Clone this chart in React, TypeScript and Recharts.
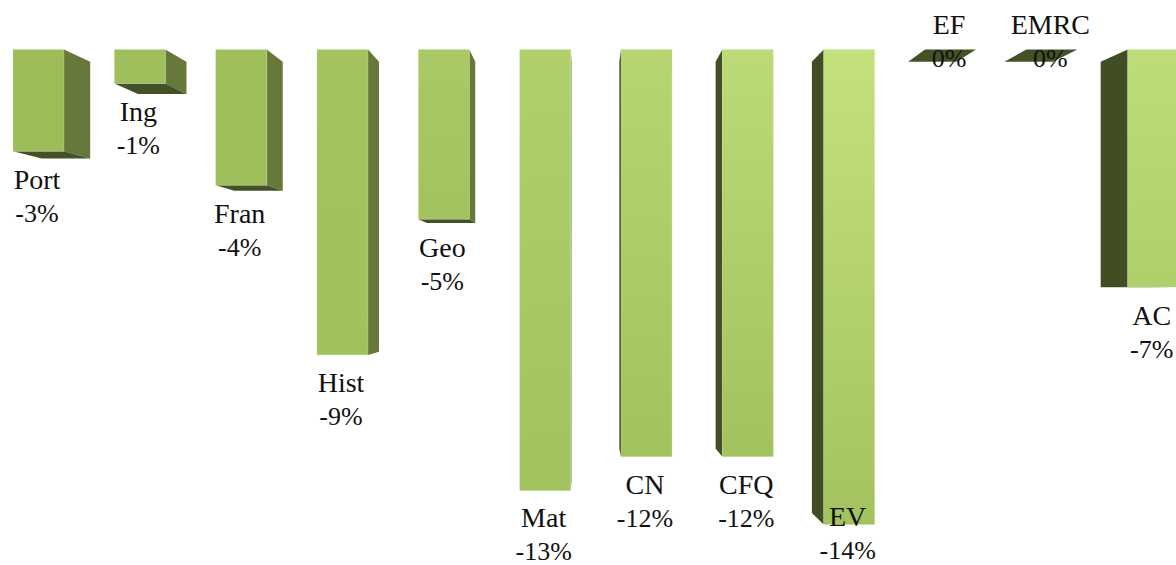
import React from "react";
import { BarChart, Bar, XAxis, YAxis, LabelList } from "recharts";

const categories = ["Port", "Ing", "Fran", "Hist", "Geo", "Mat", "CN", "CFQ", "EV", "EF", "EMRC", "AC"];
const values = [-3, -1, -4, -9, -5, -13, -12, -12, -14, 0, 0, -7];

// styling per bar, front face gets lighter towards the right
const topColors = ["#9dbd5b", "#9fbf5d", "#9fbf5d", "#a3c360", "#a9c966", "#b0d06d", "#b6d673", "#bbdb78", "#c3e27f", "#a0c05d", "#a0c05d", "#bddd7a"];
const bottomColors = ["#9dbd5b", "#9fbf5d", "#9ebe5c", "#a1c15e", "#a3c360", "#a2c25f", "#a2c25f", "#a2c25f", "#a3c360", "#a0c05d", "#a0c05d", "#afcf6b"];
// label baseline below the bar end, a few were moved by hand in the original
const labelOffsets = [38, 38, 38, 37, 38, 36, 37, 37, 1, -16, -16, 38];

const data = categories.map((name, i) => ({ name, value: values[i] }));

// perspective of the fake 3D box
const VP_X = 600;
const VP_Y = 293.5;
const DEPTH = 0.05;
const backX = (x: number) => x + (VP_X - x) * DEPTH;
const backY = (y: number) => y + (VP_Y - y) * DEPTH;
const pts = (list: number[][]) => list.map((p) => p.join(",")).join(" ");

function Box3D(props: any) {
  const { x, y, width, height, index } = props;
  const top = Math.min(y, y + height);
  const bottom = Math.max(y, y + height);
  const left = x;
  const right = x + width;
  const id = `face-${index}`;
  return (
    <g>
      <defs>
        <linearGradient id={id} x1="0" y1="0" x2="0" y2="1">
          <stop offset="0%" stopColor={topColors[index]} />
          <stop offset="100%" stopColor={bottomColors[index]} />
        </linearGradient>
      </defs>
      {right < VP_X && (
        <polygon
          fill="#66793a"
          points={pts([[right, top], [backX(right), backY(top)], [backX(right), backY(bottom)], [right, bottom]])}
        />
      )}
      {left > VP_X && (
        <polygon
          fill="#414d23"
          points={pts([[left, top], [backX(left), backY(top)], [backX(left), backY(bottom)], [left, bottom]])}
        />
      )}
      {bottom < VP_Y && (
        <polygon
          fill="#445126"
          points={pts([[left, bottom], [right, bottom], [backX(right), backY(bottom)], [backX(left), backY(bottom)]])}
        />
      )}
      {height !== 0 && (
        <rect
          x={left}
          y={top}
          width={width}
          height={bottom - top}
          fill={`url(#${id})`}
          stroke="#d4e3ab"
          strokeOpacity={0.3}
          strokeWidth={1}
        />
      )}
    </g>
  );
}

function BarLabel(props: any) {
  const { x, y, width, height, index } = props;
  const cx = x + width / 2 - 1.5;
  const baseline = Math.max(y, y + height) + labelOffsets[index];
  return (
    <text
      x={cx}
      y={baseline}
      textAnchor="middle"
      fontFamily="'Liberation Serif', serif"
      fontSize={28}
      fill="#111111"
    >
      <tspan x={cx}>{categories[index]}</tspan>
      <tspan x={cx} dy={33} fontSize={26}>{`${values[index]}%`}</tspan>
    </text>
  );
}

export default function App() {
  return (
    <div style={{ position: "absolute", left: 0, top: 0, width: 1176, height: 565, overflow: "hidden", background: "#ffffff" }}>
      <div style={{ position: "absolute", left: -12, top: 0 }}>
        <BarChart
          width={1216}
          height={565}
          data={data}
          barSize={51}
          margin={{ top: 49.5, right: 0, bottom: 6.5, left: 0 }}
        >
          <XAxis dataKey="name" hide />
          <YAxis domain={[-15, 0]} hide />
          <Bar dataKey="value" isAnimationActive={false} shape={Box3D}>
            <LabelList dataKey="value" content={BarLabel} />
          </Bar>
        </BarChart>
      </div>
    </div>
  );
}
